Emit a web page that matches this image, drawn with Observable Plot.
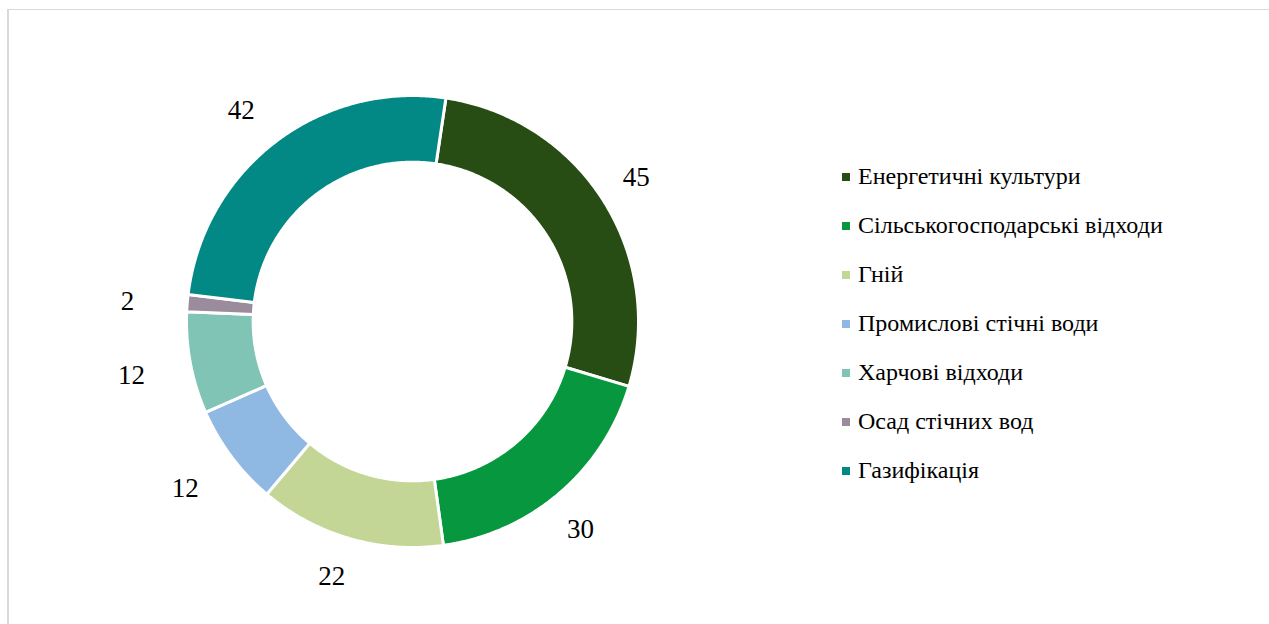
<!DOCTYPE html>
<html>
<head>
<meta charset="utf-8">
<script src="https://cdn.jsdelivr.net/npm/d3@7"></script>
<script src="https://cdn.jsdelivr.net/npm/@observablehq/plot@0.6"></script>
<style>
  html, body { margin: 0; padding: 0; background: #fff; overflow: hidden; }
  body { width: 1269px; height: 624px; position: relative; font-family: "Liberation Serif", "DejaVu Serif", "Noto Serif", "Times New Roman", serif; }
  #frame { position: absolute; left: 7px; top: 9px; width: 1400px; height: 800px; border-left: 2px solid #d9d9d9; border-top: 1.5px solid #d9d9d9; box-sizing: border-box; }
  #chart { position: absolute; left: 0; top: 0; }
  #legend { position: absolute; left: 842px; top: 152px; }
  .item { display: flex; align-items: center; height: 49px; font-size: 24px; color: #000; white-space: nowrap; }
  .sw { width: 8px; height: 8px; margin-right: 8px; flex: none; }
</style>
</head>
<body>
<div id="frame"></div>
<div id="chart"></div>
<div id="legend"></div>
<script>
// ---- data ----
const categories = [
  "Енергетичні культури",
  "Сільськогосподарські відходи",
  "Гній",
  "Промислові стічні води",
  "Харчові відходи",
  "Осад стічних вод",
  "Газифікація"
];
const values = [45, 30, 22, 12, 12, 2, 42];
const colors = ["#274d14", "#07973e", "#c3d696", "#8fb9e3", "#80c4b5", "#9a8c9c", "#038985"];

// ---- layout constants ----
const CX = 412, CY = 321, R = 226;     // pixel centre / outer radius
const HOLE = 0.705;                    // inner radius ratio
const START = 8.5;                     // first slice angle (deg, clockwise from top)
const FONT = "'Liberation Serif', 'DejaVu Serif', 'Noto Serif', 'Times New Roman', serif";

const total = d3.sum(values);
const rad = (deg) => deg * Math.PI / 180;

// build annulus polygons in unit coordinates
const arcPts = [];
const labels = [];
let acc = 0;
categories.forEach((name, i) => {
  const a0 = START + acc / total * 360;
  acc += values[i];
  const a1 = START + acc / total * 360;
  const n = Math.max(4, Math.ceil((a1 - a0) / 0.5));
  for (let k = 0; k <= n; k++) {
    const a = rad(a0 + (a1 - a0) * k / n);
    arcPts.push({name, x: Math.sin(a), y: Math.cos(a)});
  }
  for (let k = n; k >= 0; k--) {
    const a = rad(a0 + (a1 - a0) * k / n);
    arcPts.push({name, x: HOLE * Math.sin(a), y: HOLE * Math.cos(a)});
  }
  // label outside the ring, at the slice mid-angle
  const am = rad((a0 + a1) / 2);
  const ux = Math.sin(am), uy = Math.cos(am);
  const d = (256 + 22 * Math.abs(ux)) / R;
  labels.push({x: d * ux, y: d * uy, text: String(values[i])});
});

const chart = Plot.plot({
  width: 1269,
  height: 624,
  margin: 0,
  style: {background: "transparent"},
  x: {domain: [-1, 1], range: [CX - R, CX + R], axis: null},
  y: {domain: [-1, 1], range: [CY + R, CY - R], axis: null},
  color: {domain: categories, range: colors},
  marks: [
    Plot.line(arcPts, {x: "x", y: "y", z: "name", fill: "name", stroke: "white", strokeWidth: 3, curve: "linear-closed"}),
    Plot.text(labels, {x: "x", y: "y", text: "text", dx: -8, dy: 3, fontSize: 27, fontFamily: FONT, fill: "#000", textAnchor: "middle", lineAnchor: "middle"})
  ]
});
document.getElementById("chart").appendChild(chart);

// legend
const leg = document.getElementById("legend");
categories.forEach((name, i) => {
  const it = document.createElement("div");
  it.className = "item";
  const sw = document.createElement("span");
  sw.className = "sw";
  sw.style.background = colors[i];
  const t = document.createElement("span");
  t.textContent = name;
  it.appendChild(sw);
  it.appendChild(t);
  leg.appendChild(it);
});
</script>
</body>
</html>
